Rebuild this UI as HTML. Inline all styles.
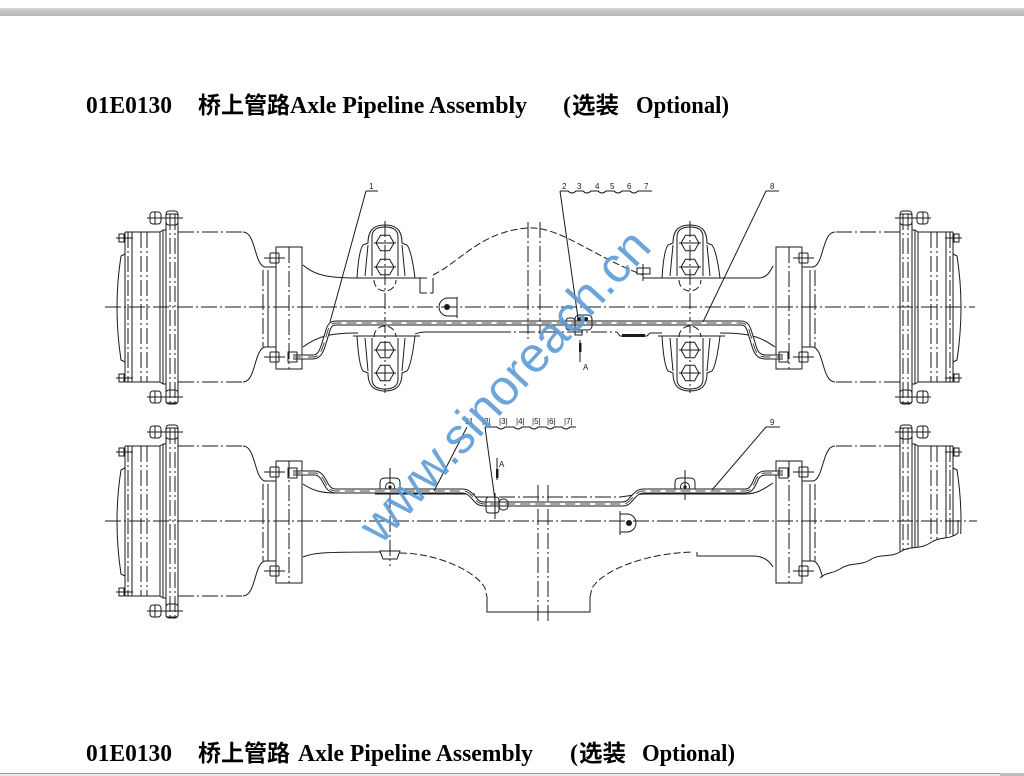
<!DOCTYPE html>
<html><head><meta charset="utf-8"><style>
html,body{margin:0;padding:0;background:#fff;}
svg{display:block;}
.s{fill:none;stroke:#1a1a1a;stroke-width:1;}
.dd{fill:none;stroke:#1a1a1a;stroke-width:1;stroke-dasharray:16,3,2,3;}
.dh{fill:none;stroke:#1a1a1a;stroke-width:1;stroke-dasharray:7,3;}
.t{font-family:"Liberation Serif","Noto Serif CJK SC",serif;font-weight:bold;font-size:24px;fill:#000;}
.c{font-family:"Liberation Serif","Noto Sans CJK SC",sans-serif;font-weight:bold;font-size:23px;fill:#000;}
.l{font-family:"Liberation Sans",sans-serif;font-size:8px;fill:#1a1a1a;}
</style></head><body>
<svg width="1024" height="776" viewBox="0 0 1024 776" xmlns="http://www.w3.org/2000/svg">
<defs>
<linearGradient id="g" x1="0" y1="0" x2="0" y2="1"><stop offset="0" stop-color="#dadada"/><stop offset="0.4" stop-color="#c3c3c3"/><stop offset="1" stop-color="#b8b8b8"/></linearGradient>
<g id="hub">
 <path class="s" d="M125,-53 L121,-51 Q113,0 121,53 L125,55"/>
 <path class="s" d="M125,-75 H160 M125,75 H160 M125,-75 V75 M132,-75 V75 M160,-75 V75 M163,-77 V77 M160,-75 L163,-77 M160,75 L163,77 M163,-77 H166 M163,77 H166"/>
 <path class="dd" d="M128,-75 V75 M141,-75 V75 M147,-75 V75"/>
 <rect class="s" x="119" y="-73" width="5" height="8"/><path class="s" d="M116,-69 H133"/>
 <rect class="s" x="119" y="67" width="5" height="8"/><path class="s" d="M116,71 H133"/>
 <rect class="s" x="166" y="-93" width="12" height="189" rx="2"/>
 <path class="dd" d="M170,-93 V96 M175,-93 V96"/>
 <rect class="s" x="150" y="-95" width="11" height="12" rx="3"/><rect class="s" x="166" y="-96" width="12" height="14" rx="3"/><path class="s" d="M147,-89 H183 M155,-95 V-83"/>
 <rect class="s" x="150" y="84" width="11" height="12" rx="3"/><rect class="s" x="166" y="83" width="12" height="14" rx="3"/><path class="s" d="M147,90 H183 M155,84 V96"/>
 <path class="dd" d="M178,-75 H243 M178,75 H243"/>
 <path class="s" d="M243,-75 C256,-75 254,-42 265,-40 H276 M243,75 C256,75 254,42 265,40 H276"/>
 <path class="s" d="M268,-37 V40"/>
 <path class="dd" d="M263,-37 V40"/>
 <rect class="s" x="276" y="-60" width="26" height="122"/>
 <path class="dd" d="M289,-60 V62"/>
 <rect class="s" x="270" y="-54" width="9" height="10" rx="1"/><path class="s" d="M264,-49 H285"/>
 <rect class="s" x="270" y="45" width="9" height="10" rx="1"/><path class="s" d="M264,50 H285"/>
</g>
<g id="brk">
 <path class="s" d="M-32,-29 H35 M-28,-29 C-27,-45 -25,-58 -22,-62 L-17,-64 C-17,-78 -10,-82 0,-82 C10,-82 17,-78 17,-64 L22,-62 C25,-58 28,-45 30,-29"/>
 <path class="s" d="M-13,-31 V-70 C-13,-78 -7,-80 0,-80 C7,-80 13,-78 13,-70 V-31 M-20,-31 L-17,-62 M20,-31 L17,-62"/>
 <polygon class="s" points="-9,-64 -4.5,-71.8 4.5,-71.8 9,-64 4.5,-56.2 -4.5,-56.2"/>
 <polygon class="s" points="-9,-40 -4.5,-47.8 4.5,-47.8 9,-40 4.5,-32.2 -4.5,-32.2"/>
 <path class="s" d="M-11,-64 H11 M-11,-40 H11"/>
 <path class="dh" d="M-11,-27 A11,11 0 0 0 11,-27"/>
 <path class="s" d="M-32,29 H35 M-28,29 C-27,45 -25,60 -22,64 L-17,66 C-17,80 -10,84 0,84 C10,84 17,80 17,66 L22,64 C25,60 28,45 30,29"/>
 <path class="s" d="M-13,31 V72 C-13,80 -7,82 0,82 C7,82 13,80 13,72 V31 M-20,31 L-17,64 M20,31 L17,64"/>
 <polygon class="s" points="-9,43 -4.5,35.2 4.5,35.2 9,43 4.5,50.8 -4.5,50.8"/>
 <polygon class="s" points="-9,66 -4.5,58.2 4.5,58.2 9,66 4.5,73.8 -4.5,73.8"/>
 <path class="s" d="M-11,43 H11 M-11,66 H11"/>
 <path class="dh" d="M-11,30 A11,11 0 0 1 11,30"/>
 <path class="dd" d="M0,-86 V86"/>
</g>
<g id="clip">
 <path class="s" d="M-10,6 V-5 C-10,-9 -8,-10 -4,-10 H4 C8,-10 10,-9 10,-5 V6 M-15,6 H15"/>
 <circle class="s" cx="0" cy="-1" r="4.5"/><circle cx="0" cy="-1" r="1.6" fill="#1a1a1a"/>
</g>
</defs>

<rect width="1024" height="776" fill="#fff"/>
<rect x="0" y="8" width="1024" height="8" fill="url(#g)"/>
<rect x="0" y="773" width="1024" height="3" fill="#ececec"/>
<line x1="0" y1="773.5" x2="1000" y2="773.5" stroke="#9a9a9a" stroke-width="1"/>
<rect x="1000" y="773" width="24" height="3" fill="#bdbdbd"/>

<!-- Titles -->
<text class="t" x="86" y="113" textLength="86" lengthAdjust="spacingAndGlyphs">01E0130</text>
<text class="c" x="198" y="113" textLength="92" lengthAdjust="spacingAndGlyphs">桥上管路</text>
<text class="t" x="290" y="113" textLength="237" lengthAdjust="spacingAndGlyphs">Axle Pipeline Assembly</text>
<text class="t" x="563" y="113">(</text>
<text class="c" x="572" y="113" textLength="47" lengthAdjust="spacingAndGlyphs">选装</text>
<text class="t" x="636" y="113" textLength="93" lengthAdjust="spacingAndGlyphs">Optional)</text>

<text class="t" x="86" y="761" textLength="86" lengthAdjust="spacingAndGlyphs">01E0130</text>
<text class="c" x="198" y="761" textLength="92" lengthAdjust="spacingAndGlyphs">桥上管路</text>
<text class="t" x="298" y="761" textLength="235" lengthAdjust="spacingAndGlyphs">Axle Pipeline Assembly</text>
<text class="t" x="570" y="761">(</text>
<text class="c" x="579" y="761" textLength="47" lengthAdjust="spacingAndGlyphs">选装</text>
<text class="t" x="642" y="761" textLength="93" lengthAdjust="spacingAndGlyphs">Optional)</text>

<!-- ============ TOP VIEW ============ -->
<path class="dd" d="M105,307 H975"/>
<use href="#hub" transform="translate(0,307)"/>
<use href="#hub" transform="translate(1078,307) scale(-1,1)"/>
<use href="#brk" transform="translate(385,307)"/>
<use href="#brk" transform="translate(690,307)"/>
<!-- tube -->
<path class="s" d="M303,265 C315,276 330,278 358,278 M303,347 C318,336 330,333 358,333"/>
<path class="s" d="M715,278 H760 C767,277 770,272 773,266 M720,333 C748,333 760,336 775,347"/>
<path class="s" d="M415,278 H427 M420,278 V293 M433,278 V293"/>
<path class="dh" d="M420,293 H433"/>
<path class="dh" d="M433,275 C460,262 480,232 527,228 C560,226 590,255 643,275"/>
<path class="s" d="M643,278 H662"/>
<path class="s" d="M415,334 C418,333 420,332 427,332 H495"/>
<path class="dd" d="M495,332 H617"/>
<path class="s" d="M617,332 L620,336 H647 L650,333 H662"/>
<path d="M622,334 H645 V337 H622 Z" fill="#1a1a1a"/>
<path class="dd" d="M528,222 V340 M540,222 V340"/>
<!-- hole bracket -->
<path class="s" d="M457,297 V318 M457,298 H448 A9,9 0 0 0 448,316 H457"/>
<circle cx="447" cy="307" r="3" fill="#1a1a1a"/>
<!-- small nut -->
<rect class="s" x="637" y="268" width="13" height="6"/>
<path class="s" d="M643,264 V281"/>
<!-- pipe top -->
<path d="M293,357 L313,357 C320,357 322,350 325,340 L328,330 C330,324 332,323 337,323 L741,323 C746,323 748,326 750,333 L754,346 C756,354 760,357 766,357 L783,357" fill="none" stroke="#1a1a1a" stroke-width="5"/>
<path d="M293,357 L313,357 C320,357 322,350 325,340 L328,330 C330,324 332,323 337,323 L741,323 C746,323 748,326 750,333 L754,346 C756,354 760,357 766,357 L783,357" fill="none" stroke="#fff" stroke-width="3"/>
<path d="M293,357 L313,357 C320,357 322,350 325,340 L328,330 C330,324 332,323 337,323 L741,323 C746,323 748,326 750,333 L754,346 C756,354 760,357 766,357 L783,357" fill="none" stroke="#444" stroke-width="1" stroke-dasharray="10,5"/>
<rect class="s" x="288" y="352" width="9" height="10" fill="#fff"/>
<rect class="s" x="779" y="352" width="9" height="10" fill="#fff"/>
<!-- tee -->
<rect class="s" x="566" y="318" width="9" height="12" rx="3" fill="#fff"/>
<rect class="s" x="575" y="315" width="17" height="15" rx="4" fill="#fff"/>
<circle cx="579" cy="319" r="2" fill="#1a1a1a"/><circle cx="586" cy="319" r="2" fill="#1a1a1a"/>
<rect class="s" x="575" y="330" width="7" height="5" fill="#fff"/>
<!-- A arrow top -->
<path class="s" d="M580,340 V362"/><rect x="579" y="343" width="2.5" height="9" fill="#1a1a1a"/>
<text class="l" x="583" y="370" font-size="7">A</text>
<!-- labels top -->
<text class="l" x="369" y="189">1</text>
<path class="s" d="M366,191 H378 M366,191 L330,322"/>
<text class="l" x="562" y="189">2</text><text class="l" x="577" y="189">3</text><text class="l" x="595" y="189">4</text><text class="l" x="610" y="189">5</text><text class="l" x="627" y="189">6</text><text class="l" x="644" y="189">7</text>
<path class="s" d="M560,191 H568 Q572,195 576,191 H583 Q587,195 591,191 H598 Q602,195 606,191 H614 Q618,195 622,191 H630 Q634,195 638,191 H652"/>
<path class="s" d="M560,191 L578,318"/>
<text class="l" x="770" y="189">8</text>
<path class="s" d="M766,191 H779 M766,191 L703,322"/>

<!-- ============ BOTTOM VIEW ============ -->
<path class="dd" d="M105,521 H977"/>
<use href="#hub" transform="translate(0,521)"/>
<use href="#hub" transform="translate(1078,521) scale(-1,1)"/>
<path d="M820,578 L840,571 L867,563 L893,554 L917,547 L940,540 L958,534 L980,534 L980,630 L815,630 Z" fill="#fff"/>
<path class="s" d="M958,533 C950,540 940,536 930,543 C920,550 910,545 900,552 C890,558 880,553 870,560 C860,566 850,562 840,569 C832,574 826,572 820,578"/>
<path class="s" d="M958,533 V520"/>
<!-- body -->
<path class="s" d="M303,484 C312,490 320,493 335,493 H380 M400,494 H475"/>
<path class="dd" d="M475,497 H620"/>
<path class="s" d="M620,497 C630,496 636,494 645,494 H675 M695,494 H745 C758,494 765,488 773,483"/>
<path class="s" d="M303,557 C312,553 320,552 380,552 M487,597 V612 H590 V597 M697,552 V556 H753 C762,556 769,560 773,567"/>
<path class="dh" d="M400,553 C435,553 475,570 485,588 L487,597 M590,597 L592,588 C605,568 650,553 693,552"/>
<path class="dd" d="M538,485 V622 M548,485 V622 M390,468 V566 M685,470 V500"/>
<path class="s" d="M380,551 H400 L397,559 H383 Z"/>
<use href="#clip" transform="translate(390,488)"/>
<use href="#clip" transform="translate(685,488)"/>
<!-- hole bracket bottom -->
<path class="s" d="M620,511 V535 M620,514 H627 A9,9 0 0 1 627,532 H620"/>
<circle cx="629" cy="523" r="3" fill="#1a1a1a"/>
<!-- pipe bottom -->
<path d="M293,473 L315,473 C320,473 323,478 326,484 C329,489 331,491 337,491 L462,491 C468,491 470,494 474,498 C477,502 479,504 485,504 L622,504 C627,504 629,502 632,498 C636,494 638,491 644,491 L745,491 C750,491 752,488 755,482 C757,476 760,473 766,473 L783,473" fill="none" stroke="#1a1a1a" stroke-width="5"/>
<path d="M293,473 L315,473 C320,473 323,478 326,484 C329,489 331,491 337,491 L462,491 C468,491 470,494 474,498 C477,502 479,504 485,504 L622,504 C627,504 629,502 632,498 C636,494 638,491 644,491 L745,491 C750,491 752,488 755,482 C757,476 760,473 766,473 L783,473" fill="none" stroke="#fff" stroke-width="3"/>
<path d="M293,473 L315,473 C320,473 323,478 326,484 C329,489 331,491 337,491 L462,491 C468,491 470,494 474,498 C477,502 479,504 485,504 L622,504 C627,504 629,502 632,498 C636,494 638,491 644,491 L745,491 C750,491 752,488 755,482 C757,476 760,473 766,473 L783,473" fill="none" stroke="#444" stroke-width="1" stroke-dasharray="10,5"/>
<rect class="s" x="288" y="468" width="9" height="10" fill="#fff"/>
<rect class="s" x="779" y="468" width="9" height="10" fill="#fff"/>
<!-- fitting bottom -->
<rect class="s" x="486" y="497" width="13" height="16" rx="3" fill="#fff"/>
<rect class="s" x="499" y="499" width="9" height="11" rx="4" fill="#fff"/>
<path class="s" d="M495,493 V519"/>
<!-- A arrow bottom -->
<path class="s" d="M497,458 V480"/><rect x="496" y="469" width="2.5" height="9" fill="#1a1a1a"/>
<text class="l" x="499" y="467" font-size="7">A</text>
<!-- labels bottom -->
<text class="l" x="465" y="424" font-size="9">11</text>
<text class="l" x="482" y="424" font-size="9">|2|</text>
<text class="l" x="499" y="424" font-size="9">|3|</text>
<text class="l" x="516" y="424" font-size="9">|4|</text>
<text class="l" x="532" y="424" font-size="9">|5|</text>
<text class="l" x="547" y="424" font-size="9">|6|</text>
<text class="l" x="564" y="424" font-size="9">|7|</text>
<path class="s" d="M485,427 H497 Q501,431 505,427 H514 Q518,431 522,427 H530 Q534,431 538,427 H546 Q550,431 554,427 H562 Q566,431 570,427 H576"/>
<path class="s" d="M467,427 L434,491 M485,427 L495,500"/>
<text class="l" x="770" y="425">9</text>
<path class="s" d="M766,427 H780 M766,427 L712,490"/>

<!-- watermark -->
<text x="517" y="397" text-anchor="middle" transform="rotate(-47.5 517 397)" font-family="Liberation Sans, sans-serif" font-size="50" fill="#5b9bd5" fill-opacity="0.9">www.sinoreach.cn</text>
</svg>
</body></html>
